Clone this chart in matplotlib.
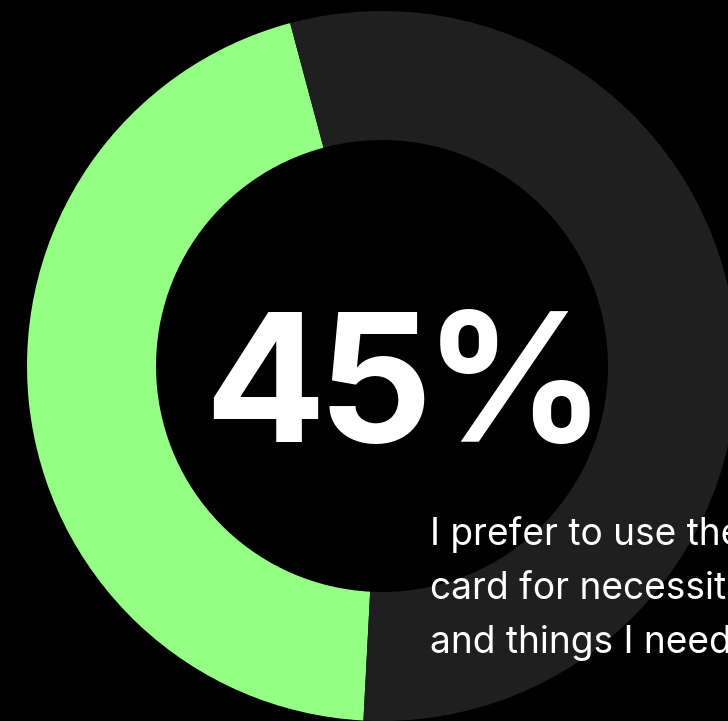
import matplotlib.pyplot as plt

# share of respondents
values = [45, 55]
colors = ['#95ff86', '#1f1f1f']
caption_lines = ['I prefer to use the', 'card for necessities', 'and things I need']

W, H = 728, 721
fig = plt.figure(figsize=(W / 100, H / 100), dpi=100, facecolor='black')
ax = fig.add_axes([0, 0, 1, 1])
ax.set_facecolor('black')

# donut in pixel units
cx, cy = 382, H - 366
r_out, r_in = 355, 226
ax.pie(values, colors=colors, startangle=105, counterclock=True,
       center=(cx, cy), radius=r_out,
       wedgeprops=dict(width=r_out - r_in, linewidth=0))

ax.set_xlim(0, W)
ax.set_ylim(0, H)
ax.set_aspect('auto')
ax.axis('off')

# big percentage, laid out glyph by glyph so the tracking can be tightened
big = f'{values[0]}%'
big_style = dict(color='white', fontsize=129, fontfamily='Inter',
                 fontweight='bold', va='baseline', ha='left')
tracking = -8
renderer = fig.canvas.get_renderer()
glyphs = [ax.text(0, H - 442, ch, **big_style) for ch in big]
widths = [g.get_window_extent(renderer).width for g in glyphs]
total = sum(widths) + tracking * (len(glyphs) - 1)
x = 405 - total / 2
for g, w in zip(glyphs, widths):
    g.set_x(x)
    x += w + tracking

for i, line in enumerate(caption_lines):
    ax.text(430, H - 545 - i * 54, line, color='white', fontsize=26.7,
            fontfamily='Inter', fontweight='normal', ha='left', va='baseline')

fig.savefig('out.png', dpi=100, facecolor='black')
